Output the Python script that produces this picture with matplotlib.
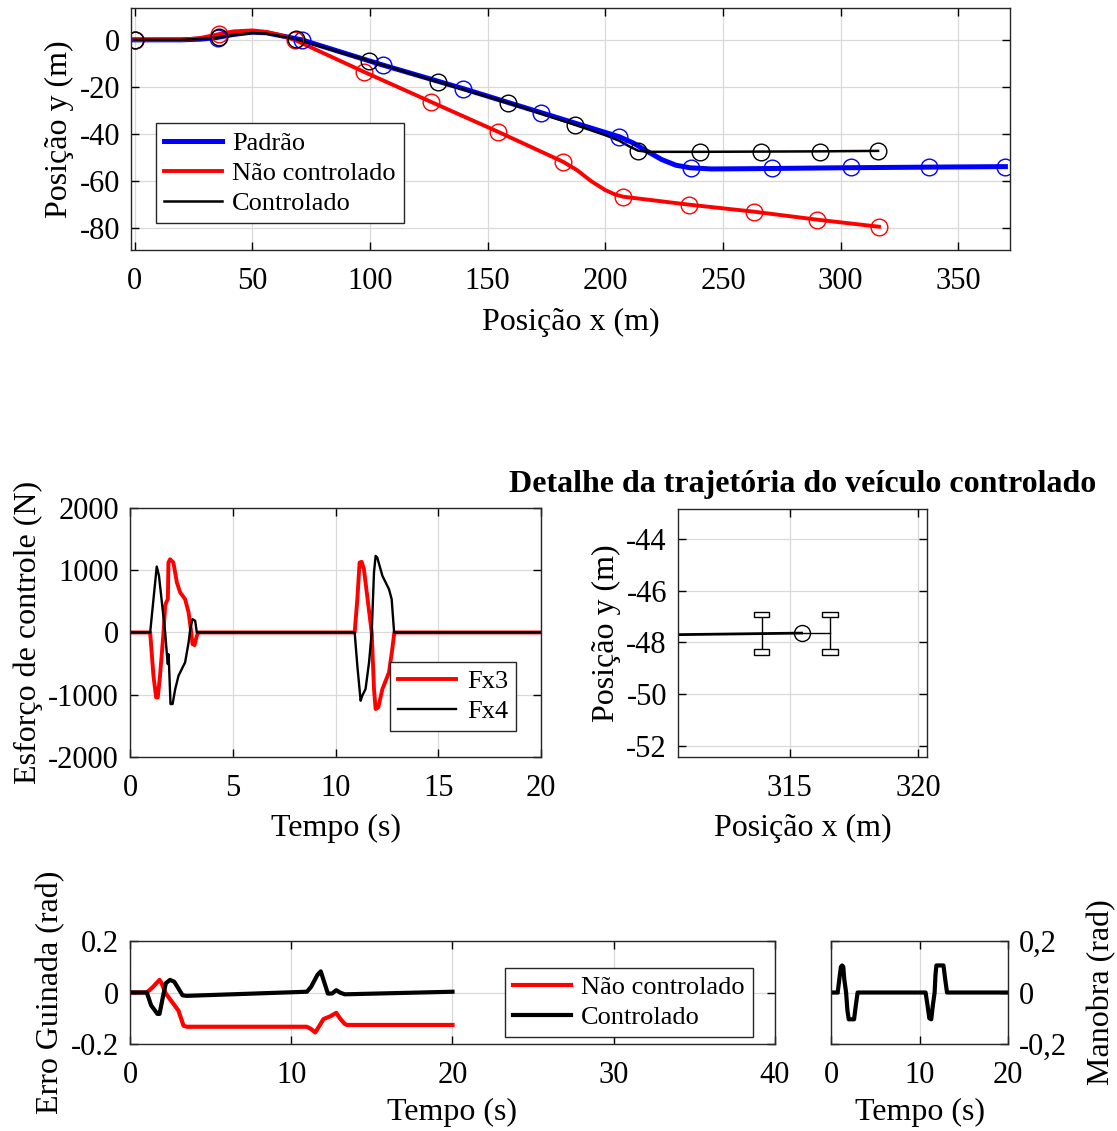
import numpy as np
import matplotlib
matplotlib.use("Agg")
import matplotlib.pyplot as plt
from matplotlib.patches import Rectangle

plt.rcParams['font.family'] = ['Liberation Serif', 'DejaVu Serif']
plt.rcParams['axes.unicode_minus'] = False
plt.rcParams['font.size'] = 19

TICK_FS = 22
LABEL_FS = 23

# ---------------- trajectories (x, y in metres) ----------------
padrao_x = [0, 10, 20, 28, 35, 42, 50, 56, 62, 71, 105, 140, 173, 206, 212, 218, 224, 230, 236, 245, 260, 300, 340, 370]
padrao_y = [0, 0, 0, 0.3, 1.0, 2.3, 3.3, 3.0, 1.8, 0, -10.6, -20.9, -31.1, -41.3, -44.0, -47.6, -51.0, -53.4, -54.5, -55.0, -54.9, -54.5, -54.2, -54.0]
padrao_mx = [0, 35.5, 71, 105.4, 139.5, 172.6, 205.8, 236.4, 270.8, 304.4, 337.6, 369.9]
padrao_my = [0, 0.8, 0, -10.6, -20.9, -31.1, -41.3, -54.5, -54.5, -54.0, -54.0, -54.0]

livre_x = [0, 10, 20, 28, 35.7, 42, 50, 56, 62, 68, 97.4, 125.9, 154.3, 182, 188, 194, 200, 204, 207.5, 235.5, 263.2, 290, 316.3]
livre_y = [0, 0, 0, 0.8, 2.4, 3.6, 4.0, 3.4, 2.0, 0, -13.6, -26.4, -39.1, -51.9, -55.5, -60.2, -64.0, -65.8, -66.8, -70.2, -73.2, -76.6, -79.6]
livre_mx = [0, 35.7, 68, 97.4, 125.9, 154.3, 182, 207.5, 235.5, 263.2, 290, 316.3]
livre_my = [0, 2.4, 0, -13.6, -26.4, -39.1, -51.9, -66.8, -70.2, -73.2, -76.6, -79.6]

ctrl_x = [0, 10, 20, 28, 35.7, 42, 50, 56, 62, 68.5, 99.5, 128.8, 158.6, 187.1, 200, 206, 210, 213.9, 218, 240.2, 266.2, 291.2, 315.9]
ctrl_y = [0, 0, 0, 0.4, 1.0, 2.0, 2.9, 2.7, 1.6, 0.3, -8.9, -17.9, -26.8, -36.2, -40.6, -43.0, -45.3, -47.2, -47.7, -47.7, -47.6, -47.5, -47.3]
ctrl_mx = [0, 35.7, 68.5, 99.5, 128.8, 158.6, 187.1, 213.9, 240.2, 266.2, 291.2, 315.9]
ctrl_my = [0, 1.0, 0.3, -8.9, -17.9, -26.8, -36.2, -47.2, -47.7, -47.7, -47.6, -47.3]

# ---------------- control forces (N) ----------------
fx3_t = [0, 0.98, 1.14, 1.27, 1.35, 1.46, 1.63, 1.71, 1.76, 1.84, 1.87, 1.95, 2.11, 2.28, 2.44, 2.68, 2.85, 2.98, 3.04, 3.14, 3.25, 3.33,
         10.93, 11.06, 11.17, 11.27, 11.38, 11.54, 11.76, 11.87, 11.95, 12.08, 12.28, 12.60, 12.76, 12.86, 20]
fx3_f = [0, 0, -695, -1043, -1043, -695, 0, 428, 481, 535, 1123, 1176, 1123, 802, 642, 535, 321, 0, -187, -203, -53, 0,
         0, 535, 1123, 1134, 1016, 588, 0, -909, -1230, -1203, -909, -642, -267, 0, 0]
fx4_t = [0, 0.98, 1.30, 1.41, 1.71, 1.80, 1.84, 1.87, 1.90, 1.97, 2.07, 2.20, 2.36, 2.68, 2.85, 2.93, 3.04, 3.17, 3.25,
         10.93, 11.06, 11.22, 11.30, 11.46, 11.63, 11.76, 11.87, 11.95, 12.03, 12.28, 12.60, 12.73, 12.85, 20]
fx4_f = [0, 0, 1059, 909, 0, -374, -508, -348, -535, -1150, -1150, -909, -695, -481, -160, 53, 214, 187, 0,
         0, -535, -1096, -1016, -909, -481, 0, 963, 1230, 1203, 909, 695, 535, 0, 0]

# ---------------- yaw error (rad) ----------------
erro_livre_t = [0, 1.04, 1.4, 1.83, 1.96, 2.22, 2.61, 3.0, 3.32, 3.52, 10.97, 11.23, 11.49, 11.75, 12.0, 12.4, 12.79, 13.05, 13.32, 13.45, 20]
erro_livre_y = [0, 0, 0.02, 0.049, 0.036, -0.004, -0.037, -0.07, -0.129, -0.133, -0.133, -0.142, -0.155, -0.129, -0.103, -0.093, -0.079, -0.103, -0.122, -0.126, -0.126]
erro_ctrl_t = [0, 1.04, 1.31, 1.70, 1.83, 2.04, 2.22, 2.48, 2.74, 3.0, 3.26, 3.52, 10.97, 11.23, 11.62, 11.83, 12.0, 12.27, 12.53, 12.79, 13.05, 13.32, 20]
erro_ctrl_y = [0, 0, -0.05, -0.083, -0.083, -0.017, 0.036, 0.049, 0.042, 0.016, -0.011, -0.013, 0.003, 0.022, 0.068, 0.082, 0.049, -0.004, -0.004, 0.009, -0.001, -0.007, 0.003]

# ---------------- manoeuvre (rad) ----------------
man_t = [0, 0.75, 1.0, 1.12, 1.25, 1.38, 1.5, 1.7, 1.85, 2.0, 2.6, 2.8, 3.0, 10.68, 10.9, 11.1, 11.32, 11.5, 11.7, 11.8, 11.9, 12.7, 12.9, 13.1, 20]
man_y = [0, 0, 0.07, 0.1, 0.105, 0.1, 0.05, 0, -0.07, -0.104, -0.104, -0.05, 0, 0, -0.05, -0.1, -0.104, -0.05, 0, 0.07, 0.105, 0.105, 0.05, 0, 0]

# ---------------- vehicle detail ----------------
cg_x, cg_y = 315.46, -47.64
rear_axle_x, front_axle_x = 313.9, 316.56
half_track = 0.73
path_x = [310.64, cg_x]
path_y = [-47.70, cg_y]

BLUE, RED, BLACK = '#0000FF', '#FF0000', '#000000'
GRID = dict(color='#d9d9d9', linewidth=0.9)


def style(ax):
    ax.grid(True, **GRID)
    ax.set_axisbelow(True)
    ax.tick_params(direction='in', top=True, right=True, length=6, width=1, labelsize=TICK_FS)
    ax.tick_params(axis='x', pad=12)
    ax.tick_params(axis='y', pad=8)
    for s in ax.spines.values():
        s.set_linewidth(1.0)
        s.set_color('#262626')


def add_legend(ax, anchor):
    leg = ax.legend(loc='lower left', bbox_to_anchor=anchor, fontsize=19, handlelength=2.2,
                    handletextpad=0.4, borderpad=0.3, labelspacing=0.25, fancybox=False, framealpha=1,
                    edgecolor='#262626', borderaxespad=0)
    leg.get_frame().set_linewidth(1.0)
    return leg


fig = plt.figure(figsize=(11.17, 11.31), dpi=100)

# ---------------- top: trajectories ----------------
ax1 = fig.add_axes([0.1173, 0.779, 0.787, 0.214])
style(ax1)
ax1.plot(padrao_x, padrao_y, color=BLUE, lw=3.6, label='Padrão')
ax1.plot(livre_x, livre_y, color=RED, lw=2.8, label='Não controlado')
ax1.plot(ctrl_x, ctrl_y, color=BLACK, lw=1.8, label='Controlado')
ax1.plot(padrao_mx, padrao_my, 'o', ms=12, mfc='none', mec=BLUE, mew=1.0)
ax1.plot(livre_mx, livre_my, 'o', ms=12, mfc='none', mec=RED, mew=1.0)
ax1.plot(ctrl_mx, ctrl_my, 'o', ms=12, mfc='none', mec=BLACK, mew=1.0)
ax1.set_xlim(-1.5, 372)
ax1.set_ylim(-89.5, 13.6)
ax1.set_xticks(np.arange(0, 351, 50))
ax1.set_yticks(np.arange(-80, 1, 20))
ax1.set_xlabel('Posição x (m)', fontsize=LABEL_FS, labelpad=9)
ax1.set_ylabel('Posição y (m)', fontsize=LABEL_FS, labelpad=4)
add_legend(ax1, (0.028, 0.112))

# ---------------- middle left: control effort ----------------
ax2 = fig.add_axes([0.1164, 0.3307, 0.368, 0.2202])
style(ax2)
ax2.plot(fx3_t, fx3_f, color=RED, lw=2.8, label='Fx3')
ax2.plot(fx4_t, fx4_f, color=BLACK, lw=1.7, label='Fx4')
ax2.set_xlim(0, 20)
ax2.set_ylim(-2000, 2000)
ax2.set_xticks([0, 5, 10, 15, 20])
ax2.set_yticks([-2000, -1000, 0, 1000, 2000])
ax2.set_xlabel('Tempo (s)', fontsize=LABEL_FS, labelpad=8)
ax2.set_ylabel('Esforço de controle (N)', fontsize=LABEL_FS, labelpad=4)
add_legend(ax2, (0.633, 0.104))

# ---------------- middle right: vehicle detail ----------------
ax3 = fig.add_axes([0.607, 0.3307, 0.2229, 0.2193])
style(ax3)
ax3.plot(path_x, path_y, color=BLACK, lw=2.0)
ax3.plot([cg_x, front_axle_x], [cg_y, cg_y], color=BLACK, lw=1.0)
for axx in (rear_axle_x, front_axle_x):
    ax3.plot([axx, axx], [cg_y - half_track, cg_y + half_track], color=BLACK, lw=1.0)
    for wy in (cg_y - half_track, cg_y + half_track):
        ax3.add_patch(Rectangle((axx - 0.3, wy - 0.1), 0.6, 0.2, facecolor='white', edgecolor=BLACK, lw=1.0, zorder=3))
ax3.plot([cg_x], [cg_y], 'o', ms=11.5, mfc='none', mec=BLACK, mew=1.0, zorder=4)
ax3.set_xlim(310.64, 320.35)
ax3.set_ylim(-52.43, -42.84)
ax3.set_xticks([315, 320])
ax3.set_yticks([-52, -50, -48, -46, -44])
ax3.set_xlabel('Posição x (m)', fontsize=LABEL_FS, labelpad=8)
ax3.set_ylabel('Posição y (m)', fontsize=LABEL_FS, labelpad=4)
ax3.set_title('Detalhe da trajetória do veículo controlado', fontsize=LABEL_FS, fontweight='bold', pad=12)

# ---------------- bottom left: yaw error ----------------
ax4 = fig.add_axes([0.1164, 0.0769, 0.5774, 0.0911])
style(ax4)
ax4.plot(erro_livre_t, erro_livre_y, color=RED, lw=3.0, label='Não controlado')
ax4.plot(erro_ctrl_t, erro_ctrl_y, color=BLACK, lw=3.0, label='Controlado')
ax4.set_xlim(0, 40)
ax4.set_ylim(-0.2, 0.2)
ax4.set_xticks([0, 10, 20, 30, 40])
ax4.set_yticks([-0.2, 0, 0.2])
ax4.set_yticklabels(['-0.2', '0', '0.2'])
ax4.set_xlabel('Tempo (s)', fontsize=LABEL_FS, labelpad=6)
ax4.set_ylabel('Erro Guinada (rad)', fontsize=LABEL_FS, labelpad=4)
add_legend(ax4, (0.581, 0.068))

# ---------------- bottom right: manoeuvre ----------------
ax5 = fig.add_axes([0.744, 0.0769, 0.1585, 0.0911])
style(ax5)
ax5.plot(man_t, man_y, color=BLACK, lw=3.0)
ax5.set_xlim(0, 20)
ax5.set_ylim(-0.2, 0.2)
ax5.set_xticks([0, 10, 20])
ax5.set_yticks([-0.2, 0, 0.2])
ax5.set_yticklabels(['-0,2', '0', '0,2'])
ax5.tick_params(labelleft=False, labelright=True)
ax5.yaxis.set_label_position('right')
ax5.set_xlabel('Tempo (s)', fontsize=LABEL_FS, labelpad=6)
ax5.set_ylabel('Manobra (rad)', fontsize=LABEL_FS, labelpad=14)

fig.savefig('out.png', dpi=100, facecolor='white')
